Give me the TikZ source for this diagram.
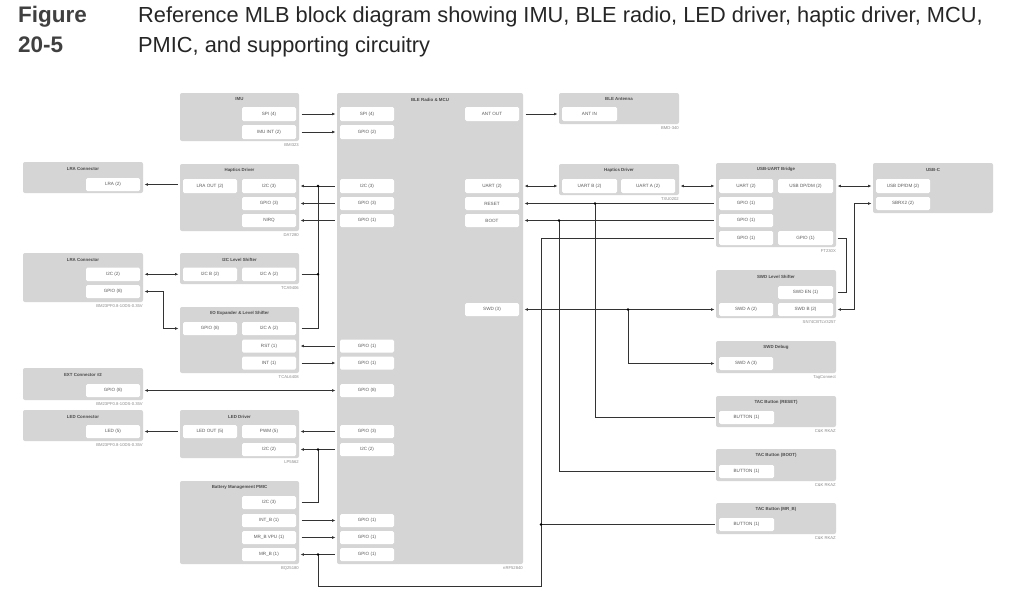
\documentclass[tikz,border=0pt]{standalone}
\usepackage{fontspec}
\setmainfont{Liberation Sans}
\usetikzlibrary{arrows.meta}
\definecolor{blkgray}{HTML}{D5D5D5}
\definecolor{porttxt}{HTML}{5A5A5A}
\definecolor{ttltxt}{HTML}{4A4A4A}
\definecolor{parttxt}{HTML}{8A8A8A}
\definecolor{wiregray}{HTML}{333333}
\definecolor{figgray}{HTML}{404040}
\definecolor{captxt}{HTML}{262626}
\tikzset{
  blkst/.style={fill=blkgray, rounded corners=2pt, inner sep=0pt, outer sep=0pt},
  portst/.style={fill=white, rounded corners=1.5pt, inner sep=0pt, outer sep=0pt, text=porttxt, font=\fontsize{4.6}{5}\selectfont},
  ttlst/.style={inner sep=0pt, text=ttltxt, font=\bfseries\fontsize{4.4}{5}\selectfont},
  partst/.style={inner sep=0pt, anchor=north east, text=parttxt, font=\fontsize{4.2}{5}\selectfont},
  wire/.style={draw=wiregray, line width=0.65pt},
  arr/.style={wire, -{Latex[length=3.4pt,width=2.8pt]}, shorten <=2.5pt, shorten >=1.5pt},
  barr/.style={wire, {Latex[length=3.4pt,width=2.8pt]}-{Latex[length=3.4pt,width=2.8pt]}, shorten <=1.5pt, shorten >=1.5pt},
  jdot/.style={fill=black},
}
\newcommand\myblk[7]{%
  \node[blkst, minimum width={(#4-#2)*1pt}, minimum height={(#5-#3)*1pt}] (#1) at ({(#2+#4)/2},{(#3+#5)/2}) {};
  \node[ttlst] (#1t) at ({(#2+#4)/2},{#3+6.5}) {#6};
  \node[partst] (#1p) at (#4,{#5+2}) {#7};
}
\newcommand\myport[6]{%
  \node[portst, minimum width={(#4-#2)*1pt}, minimum height={(#5-#3)*1pt}] (#1) at ({(#2+#4)/2},{(#3+#5)/2}) {#6};
}
\begin{document}
\begin{tikzpicture}[x=1pt,y=-1pt]
\useasboundingbox (0,0) rectangle (1024,598);
\fill[white] (0,0) rectangle (1024,598);

% ---------- caption ----------
\node[anchor=base west, inner sep=0pt, text=figgray, font=\bfseries\fontsize{22.5}{24}\selectfont] (fig1) at (18,22) {Figure};
\node[anchor=base west, inner sep=0pt, text=figgray, font=\bfseries\fontsize{22.5}{24}\selectfont] (fig2) at (18,52) {20-5};
\node[anchor=base west, inner sep=0pt, text=captxt, font=\fontsize{21.8}{24}\selectfont] (cap1) at (138,22) {Reference MLB block diagram showing IMU, BLE radio, LED driver, haptic driver, MCU,};
\node[anchor=base west, inner sep=0pt, text=captxt, font=\fontsize{21.8}{24}\selectfont] (cap2) at (138,52) {PMIC, and supporting circuitry};

% ---------- left connectors ----------
\myblk{lra1}{23}{162}{143}{193}{LRA Connector}{}
\myport{lLRA}{86}{178}{140}{191}{LRA (2)}
\myblk{lra2}{23}{253}{143}{302}{LRA Connector}{BM23PF0.8-10DS-0.35V}
\myport{lI2C}{86}{267.5}{140}{281}{I2C (2)}
\myport{lGPIO}{86}{285}{140}{298}{GPIO (8)}
\myblk{ext}{23}{368}{143}{400}{EXT Connector \#2}{BM23PF0.8-10DS-0.35V}
\myport{xGPIO}{86}{384}{140}{397}{GPIO (8)}
\myblk{ledc}{23}{410}{143}{441}{LED Connector}{BM23PF0.8-10DS-0.35V}
\myport{cLED}{86}{425}{140}{438}{LED (5)}

% ---------- left column ----------
\myblk{imu}{180}{93}{299}{141}{IMU}{BMI323}
\myport{iSPI}{242}{107}{296}{121}{SPI (4)}
\myport{iINT}{242}{125}{296}{139}{IMU INT (2)}
\myblk{hapL}{180}{164}{299}{231}{Haptics Driver}{DA7280}
\myport{hLRA}{183}{179}{237}{193}{LRA OUT (2)}
\myport{hI2C}{242}{179}{296}{193}{I2C (3)}
\myport{hGPIO}{242}{197}{296}{210}{GPIO (3)}
\myport{hNIRQ}{242}{214}{296}{227}{NIRQ}
\myblk{ls}{180}{253}{299}{284}{I2C Level Shifter}{TCA9406}
\myport{sB}{183}{267.5}{237}{281}{I2C B (2)}
\myport{sA}{242}{267.5}{296}{281}{I2C A (2)}
\myblk{exp}{180}{307}{299}{373}{I/O Expander \& Level Shifter}{TCAL6408}
\myport{eGPIO}{183}{322}{237}{335}{GPIO (8)}
\myport{eI2C}{242}{322}{296}{335}{I2C A (2)}
\myport{eRST}{242}{339.5}{296}{352.5}{RST (1)}
\myport{eINT}{242}{356.5}{296}{369.5}{INT (1)}
\myblk{led}{180}{410}{299}{458}{LED Driver}{LP5562}
\myport{dOUT}{183}{425}{237}{438}{LED OUT (5)}
\myport{dPWM}{242}{425}{296}{438}{PWM (5)}
\myport{dI2C}{242}{443}{296}{456}{I2C (2)}
\myblk{pm}{180}{481}{299}{564}{Battery Management PMIC}{BQ25180}
\myport{pI2C}{242}{496}{296}{509}{I2C (3)}
\myport{pINT}{242}{514}{296}{527}{INT\_B (1)}
\myport{pVPU}{242}{531}{296}{544}{MR\_B VPU (1)}
\myport{pMRB}{242}{548}{296}{561}{MR\_B (1)}

% ---------- MCU ----------
\myblk{mcu}{337}{93}{523}{564}{BLE Radio \& MCU}{nRF52840}
\myport{mSPI}{340}{107}{394}{121}{SPI (4)}
\myport{mGP2}{340}{125}{394}{139}{GPIO (2)}
\myport{mI2C}{340}{179}{394}{193}{I2C (3)}
\myport{mGP3}{340}{197}{394}{210}{GPIO (3)}
\myport{mGP1}{340}{214}{394}{227}{GPIO (1)}
\myport{mGP1b}{340}{339.5}{394}{352.5}{GPIO (1)}
\myport{mGP1c}{340}{356.5}{394}{369.5}{GPIO (1)}
\myport{mGP8}{340}{384}{394}{397}{GPIO (8)}
\myport{mGP3b}{340}{425}{394}{438}{GPIO (3)}
\myport{mI2C2}{340}{443}{394}{456}{I2C (2)}
\myport{mGP1d}{340}{514}{394}{527}{GPIO (1)}
\myport{mGP1e}{340}{531}{394}{544}{GPIO (1)}
\myport{mGP1f}{340}{548}{394}{561}{GPIO (1)}
\myport{mANT}{465}{107}{519}{121}{ANT OUT}
\myport{mUART}{465}{179}{519}{193}{UART (2)}
\myport{mRST}{465}{197}{519}{210}{RESET}
\myport{mBOOT}{465}{214}{519}{227}{BOOT}
\myport{mSWD}{465}{303}{519}{316}{SWD (3)}

% ---------- middle-right ----------
\myblk{ant}{559}{93}{679}{124}{BLE Antenna}{BMD-340}
\myport{aIN}{562}{107}{617}{121}{ANT IN}
\myblk{hap2}{559}{164}{679}{195}{Haptics Driver}{TXU0202}
\myport{tB}{562}{179}{617}{193}{UART B (2)}
\myport{tA}{621}{179}{675}{193}{UART A (2)}

% ---------- right column ----------
\myblk{usb}{716}{163}{836}{247}{USB-UART Bridge}{FT230X}
\myport{uUART}{719}{179}{773}{193}{UART (2)}
\myport{uDP}{778}{179}{833}{193}{USB DP/DM (2)}
\myport{uG1}{719}{197}{773}{210}{GPIO (1)}
\myport{uG2}{719}{214}{773}{227}{GPIO (1)}
\myport{uG3}{719}{231}{773}{245}{GPIO (1)}
\myport{uG4}{778}{231}{833}{245}{GPIO (1)}
\myblk{usbc}{873}{163}{993}{213}{USB-C}{}
\myport{cDP}{876}{179}{930}{193}{USB DP/DM (2)}
\myport{cSB}{876}{197}{930}{210}{SBRX2 (2)}
\myblk{swdls}{716}{270}{836}{318}{SWD Level Shifter}{SN74CBTLV3257}
\myport{wEN}{778}{286}{833}{299}{SWD EN (1)}
\myport{wA}{719}{303}{773}{316}{SWD A (2)}
\myport{wB}{778}{303}{833}{316}{SWD B (2)}
\myblk{dbg}{716}{341}{836}{373}{SWD Debug}{TagConnect}
\myport{gA}{719}{357}{773}{370}{SWD A (3)}
\myblk{tacR}{716}{396}{836}{427}{TAC Button (RESET)}{C\&K RKAZ}
\myport{rBTN}{719}{411}{774}{424}{BUTTON (1)}
\myblk{tacB}{716}{449}{836}{481}{TAC Button (BOOT)}{C\&K RKAZ}
\myport{bBTN}{719}{465}{774}{478}{BUTTON (1)}
\myblk{tacM}{716}{503}{836}{534}{TAC Button (MR\_B)}{C\&K RKAZ}
\myport{mBTN}{719}{518}{774}{531}{BUTTON (1)}

% ---------- junction coordinates ----------
\coordinate (j1) at (318,186);
\coordinate (j2) at (j1 |- sA);
\coordinate (j4) at (318,449.5);
\coordinate (j5) at (318,554.5);
\coordinate (m1) at (541,586);
\coordinate (j7) at (m1 |- mBTN);
\coordinate (j8) at (595,203.5);
\coordinate (j9) at (559,220.5);
\coordinate (j10) at (628,309.5);
\coordinate (k1) at (163,291.5);
\coordinate (sb1) at (854,309.5);
\coordinate (en1) at (846,292.5);

% ---------- connectors: left side ----------
\draw[arr] (imu.east |- iSPI) -- (mcu.west |- iSPI);
\draw[arr] (imu.east |- iINT) -- (mcu.west |- iINT);
\draw[arr] (mcu.west |- mI2C) -- (hapL.east |- mI2C);
\draw[arr] (mcu.west |- mGP3) -- (hapL.east |- mGP3);
\draw[arr] (mcu.west |- mGP1) -- (hapL.east |- mGP1);
\draw[arr] (hapL.west |- lLRA) -- (lra1.east |- lLRA);
\draw[barr] (lra2.east |- lI2C) -- (ls.west |- lI2C);
\draw[wire, shorten <=2.5pt] (ls.east |- sA) -- (j2);
\draw[wire, shorten <=2.5pt] (exp.east |- eI2C) -| (j1);
\draw[barr] (lra2.east |- lGPIO) -- (k1) |- (exp.west |- eGPIO);
\draw[arr] (mcu.west |- eRST) -- (exp.east |- eRST);
\draw[arr] (exp.east |- eINT) -- (mcu.west |- eINT);
\draw[barr] (ext.east |- xGPIO) -- (mcu.west |- xGPIO);
\draw[arr] (led.west |- dOUT) -- (ledc.east |- dOUT);
\draw[arr] (mcu.west |- dPWM) -- (led.east |- dPWM);
\draw[arr] (mcu.west |- dI2C) -- (led.east |- dI2C);
\draw[wire, shorten <=2.5pt] (pm.east |- pI2C) -| (j4);
\draw[arr] (pm.east |- pINT) -- (mcu.west |- pINT);
\draw[arr] (pm.east |- pVPU) -- (mcu.west |- pVPU);
\draw[arr] (mcu.west |- pMRB) -- (pm.east |- pMRB);
\draw[wire, shorten >=2.5pt] (j5) |- (m1) |- (usb.west |- uG3);
\draw[wire, shorten >=1.5pt] (j7) -- (tacM.west |- mBTN);

% ---------- connectors: right side ----------
\draw[arr] (mcu.east |- mANT) -- (ant.west |- mANT);
\draw[barr] (mcu.east |- mUART) -- (hap2.west |- mUART);
\draw[barr] (hap2.east |- mUART) -- (usb.west |- mUART);
\draw[arr] (usb.west |- uG1) -- (mcu.east |- uG1);
\draw[arr] (usb.west |- uG2) -- (mcu.east |- uG2);
\draw[wire, shorten >=1.5pt] (j8) |- (tacR.west |- rBTN);
\draw[wire, shorten >=1.5pt] (j9) |- (tacB.west |- bBTN);
\draw[barr] (usb.east |- uDP) -- (usbc.west |- uDP);
\draw[barr] (usbc.west |- cSB) -| (sb1) -- (swdls.east |- wB);
\draw[wire, shorten <=1.5pt, shorten >=1.5pt] (usb.east |- uG4) -| (en1) -- (swdls.east |- wEN);
\draw[barr] (mcu.east |- mSWD) -- (swdls.west |- mSWD);
\draw[arr, shorten <=0pt] (j10) |- (dbg.west |- gA);

% ---------- junction dots ----------
\foreach \j in {j1,j2,j4,j5,j7,j8,j9,j10} \fill[jdot] (\j) circle (1.3);
\end{tikzpicture}
\end{document}
